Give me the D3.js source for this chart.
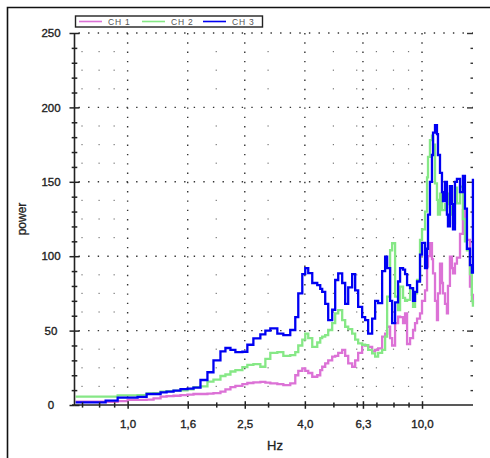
<!DOCTYPE html>
<html>
<head>
<meta charset="utf-8">
<script src="https://cdn.jsdelivr.net/npm/d3@7"></script>
<style>
  body { margin: 0; background: #fff; }
  svg { display: block; }
  text { font-family: "Liberation Sans", Arial, sans-serif; }
</style>
</head>
<body>
<svg id="chart" width="490" height="458"></svg>
<script>
// Spectrum frequencies (Hz)
const freqs = [0.666,0.749,0.842,0.925,1.0,1.081,1.16,1.225,1.294,1.356,
  1.432,1.512,1.597,1.674,1.768,1.867,1.957,2.067,2.149,2.235,
  2.323,2.454,2.551,2.674,2.824,2.937,3.053,3.225,3.38,3.568,
  3.711,3.799,3.92,4.012,4.107,4.238,4.407,4.511,4.581,4.69,
  4.801,4.953,5.071,5.192,5.356,5.483,5.614,5.791,5.929,6.069,
  6.261,6.41,6.562,6.77,6.93,7.094,7.32,7.493,7.612,7.791,
  7.915,8.101,8.293,8.423,8.622,8.759,8.897,9.108,9.323,9.469,
  9.619,9.845,10.0,10.24,10.4,10.48,10.64,10.81,10.9,11.07,
  11.24,11.33,11.51,11.69,11.78,11.97,12.15,12.25,12.44,12.64,
  12.74,12.94,13.14,13.46,13.77,13.99,14.21,14.55,14.77,14.89];

// Power per channel
const ch1 = [2.2,2.2,2.2,2.6,3.4,3.4,3.6,4.5,5.6,6,
  6.2,6.7,7,7.4,7.4,7.6,8,9,10.5,12,
  12.8,14,14.8,15.2,15.5,15,14.6,14,13.4,14.5,
  20,23,24.6,23,21.5,19,20,23.5,25.7,28,
  30,32.5,33,35,37,33,28,25.7,30,35,
  40.3,40,39,36,37,38,46,48,52.6,45,
  40,55,59.3,59,55,61.6,41,45,50.4,55,
  58,61.6,70,77,93,100,108.7,98,88.5,70,
  57,75,95,82,75,68,61.6,80,99.7,92,
  88.5,95,99,115,131,119.8,111,79.5,74,68];

const ch2 = [5.6,5.6,5.6,6.5,6.5,6.7,7.8,8,9,9.3,
  9.6,9.8,10.5,12,12.5,15.7,17,19.5,20.5,22.5,
  23.5,25.5,27,27.5,25.7,31,35,35.5,33,33.5,
  35.5,40,44,48,45,39,42,45,46,47,
  50.4,55,61.6,63.8,57,52.6,51,48,44,41.4,
  40.5,40.3,37,34.7,32.5,35,37,46,72.8,104,
  108.7,72.8,63.8,79.5,72,70,70.6,78,66,75,
  84,111,118,130,153,166.8,178,181,175,149,
  137.8,128,142,131,131,135,142,135,133,128,
  122,146,135.5,146.7,125,110,104,88,70,66];

const ch3 = [1.8,1.8,3,5,5,5.5,7.4,7.4,8.5,9,
  9.6,10.7,11,11.7,16.8,22,30,36,38.3,37,
  35.5,35.8,40.5,44.8,47.5,50,51.5,48,47,50.4,
  59,75,88,92,88.6,82,80.5,78,76,68,
  57,64,84,88.5,82,68,79,88,77,66,
  59,57,48,58,70,68.5,90,99.7,92,70,
  55,69,83,92,91,88,80.6,78.6,70,76,
  83,101,109,92,105,128,150,168,183,188,
  182,168,156,143,137,150,128,120,147,135,
  118,150,152,143,154,132,105,94,89,152];

const seriesNames = ["CH 1", "CH 2", "CH 3"];
const seriesColors = ["#dc72d6", "#86e886", "#0000f2"];
const seriesValues = [ch1, ch2, ch3];

// Axis ticks
const xMajorTicks = [1.0, 1.6, 2.5, 4.0, 6.3, 10.0];
const xMinorTicks = [0.7, 0.8, 0.9, 2, 3, 5, 6, 7, 8, 9];
const yMajorTicks = [0, 50, 100, 150, 200, 250];
const yMinorTicks = d3.range(10, 250, 10).filter(v => v % 50 !== 0);
const yDotRows = d3.range(12.5, 250, 12.5).filter(v => v % 50 !== 0);

const svg = d3.select("#chart");

const x = d3.scaleLog().domain([0.66, 14.9]).range([74.5, 473]);
const y = d3.scaleLinear().domain([0, 250]).range([405, 33]);
const [x0, x1] = x.range();
const [yb, yt] = y.range();

// outer frame (top and left edges)
svg.append("path")
  .attr("d", "M7.5,458V7.5H490")
  .attr("fill", "none").attr("stroke", "#111").attr("stroke-width", 1.6);

// grid: dotted major lines
const grid = svg.append("g");
grid.selectAll("line.vx").data(xMajorTicks).join("line")
  .attr("x1", d => x(d)).attr("x2", d => x(d))
  .attr("y1", yt).attr("y2", yb)
  .attr("stroke", "#333").attr("stroke-width", 1.4)
  .attr("stroke-dasharray", "1.4,7.9");
grid.selectAll("line.hy").data(yMajorTicks.filter(v => v > 0)).join("line")
  .attr("x1", x0 + 4).attr("x2", x1)
  .attr("y1", d => y(d)).attr("y2", d => y(d))
  .attr("stroke", "#333").attr("stroke-width", 1.4)
  .attr("stroke-dasharray", "1.4,8.2");

// grid: sparse dots at minor positions
const dots = [];
xMinorTicks.forEach(f => yDotRows.forEach(v => dots.push([f, v])));
grid.selectAll("rect.dot").data(dots).join("rect")
  .attr("x", d => x(d[0]) - 0.6).attr("y", d => y(d[1]) - 0.6)
  .attr("width", 1.2).attr("height", 1.2)
  .attr("fill", "#777");

// right edge marks
svg.append("g").attr("transform", `translate(${x1},0)`)
  .call(d3.axisLeft(y).tickValues(yMinorTicks).tickSize(2.5).tickFormat(""))
  .call(g => g.select(".domain").remove())
  .selectAll("line").attr("stroke", "#333").attr("stroke-width", 1.4);
svg.append("g").attr("transform", `translate(${x1},0)`)
  .call(d3.axisLeft(y).tickValues(yMajorTicks.filter(v => v > 0)).tickSize(6).tickFormat(""))
  .call(g => g.select(".domain").remove())
  .selectAll("line").attr("stroke", "#333").attr("stroke-width", 1.4);

// series lines
const line = d3.line()
  .x((d, i) => x(freqs[i]))
  .y(d => y(d))
  .curve(d3.curveStepAfter);

svg.append("g").selectAll("path").data(seriesValues).join("path")
  .attr("d", d => line(d))
  .attr("fill", "none")
  .attr("stroke", (d, i) => seriesColors[i])
  .attr("stroke-width", 2.3)
  .attr("stroke-linejoin", "miter");

// axes with ticks crossing the axis line
function crossTicks(axisA, axisB, pos, values, size) {
  [axisA, axisB].forEach(a => {
    svg.append("g").attr("transform", pos)
      .call(a.tickValues(values).tickSize(size).tickSizeOuter(0).tickFormat(""))
      .call(g => g.select(".domain").remove())
      .selectAll("line").attr("stroke", "#222").attr("stroke-width", 1.5);
  });
}
crossTicks(d3.axisBottom(x), d3.axisTop(x), `translate(0,${yb})`, xMajorTicks, 3.8);
crossTicks(d3.axisBottom(x), d3.axisTop(x), `translate(0,${yb})`, xMinorTicks, 2.6);
crossTicks(d3.axisLeft(y), d3.axisRight(y), `translate(${x0},0)`, yMajorTicks, 5);
crossTicks(d3.axisLeft(y), d3.axisRight(y), `translate(${x0},0)`, yMinorTicks, 2.8);

svg.append("line")
  .attr("x1", x0 - 2.5).attr("x2", x1).attr("y1", yb).attr("y2", yb)
  .attr("stroke", "#222").attr("stroke-width", 1.6);
svg.append("line")
  .attr("x1", x0).attr("x2", x0).attr("y1", yt).attr("y2", yb)
  .attr("stroke", "#222").attr("stroke-width", 1.6);

// tick labels
const fmt = d => d3.format(".1f")(d).replace(".", ",");
svg.append("g").attr("transform", `translate(0,${yb})`)
  .call(d3.axisBottom(x).tickValues(xMajorTicks).tickSize(0).tickPadding(15).tickFormat(fmt))
  .call(g => g.select(".domain").remove())
  .selectAll("text")
  .attr("font-family", "'Liberation Sans', Arial, sans-serif")
  .attr("font-size", 11.5).attr("fill", "#222")
  .attr("stroke", "#222").attr("stroke-width", 0.35);

svg.append("g").attr("transform", `translate(${x0},0)`)
  .call(d3.axisLeft(y).tickValues(yMajorTicks).tickSize(0).tickFormat(d3.format("d")))
  .call(g => g.select(".domain").remove())
  .selectAll("text")
  .attr("x", 51 - x0).attr("text-anchor", "middle")
  .attr("font-family", "'Liberation Sans', Arial, sans-serif")
  .attr("font-size", 11.5).attr("fill", "#222")
  .attr("stroke", "#222").attr("stroke-width", 0.35);

// axis titles
svg.append("text").attr("x", 275).attr("y", 450)
  .attr("text-anchor", "middle").attr("font-size", 13).attr("fill", "#222")
  .attr("stroke", "#222").attr("stroke-width", 0.3)
  .text("Hz");
svg.append("text").attr("transform", "translate(26,219) rotate(-90)")
  .attr("text-anchor", "middle").attr("font-size", 12).attr("fill", "#222")
  .attr("stroke", "#222").attr("stroke-width", 0.3)
  .text("power");

// legend
const legend = svg.append("g");
legend.append("rect")
  .attr("x", 75.5).attr("y", 16).attr("width", 187).attr("height", 11)
  .attr("fill", "#fff").attr("stroke", "#222").attr("stroke-width", 1.4);
const legendX = [79, 142, 203];
seriesNames.forEach((name, i) => {
  legend.append("line")
    .attr("x1", legendX[i]).attr("x2", legendX[i] + 23)
    .attr("y1", 21.5).attr("y2", 21.5)
    .attr("stroke", seriesColors[i]).attr("stroke-width", 1.6);
  legend.append("text")
    .attr("x", legendX[i] + 29).attr("y", 24.8)
    .attr("font-size", 8.5).attr("letter-spacing", 0.8).attr("fill", "#555")
    .text(name);
});
</script>
</body>
</html>
